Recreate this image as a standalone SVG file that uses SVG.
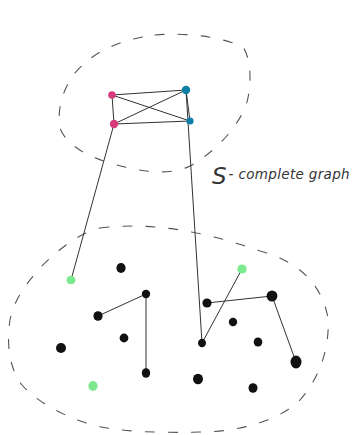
<svg xmlns="http://www.w3.org/2000/svg" width="353" height="435" viewBox="0 0 353 435">
<style>
.blob{fill:none;stroke:#555;stroke-width:1.1;stroke-dasharray:9 14;stroke-linecap:round}
.e{stroke:#333;stroke-width:1;fill:none}
.k{fill:#111}
.g{fill:#7ce98e}
.p{fill:#d63c7c}
.b{fill:#0f7fa6}
.lbl{font-family:"DejaVu Sans","Liberation Sans",sans-serif;font-style:italic;fill:#333;font-weight:300}
</style>
<rect width="353" height="435" fill="#fff"/>
<g id="regions">
<path class="blob" d="M155,35 C190,32 225,38 243,47 C252,60 252,90 245,108 C235,130 215,152 190,166 C170,176 140,172 110,163 C85,156 65,143 60,128 C57,110 62,90 75,73 C90,55 115,40 155,35 Z"/>
<path class="blob" d="M100,228 C150,222 200,230 260,251 C300,262 322,285 328,318 C330,350 318,380 300,400 C280,420 240,432 200,432 C160,433 120,432 92,425 C60,415 35,400 22,385 C10,370 6,345 10,320 C14,300 25,285 40,268 C55,252 80,232 100,228 Z"/>
</g>
<g id="connectors">
<line class="e" x1="112" y1="95" x2="186" y2="90"/>
<line class="e" x1="112" y1="95" x2="190" y2="121"/>
<line class="e" x1="112" y1="95" x2="114" y2="124"/>
<line class="e" x1="114" y1="124" x2="186" y2="90"/>
<line class="e" x1="114" y1="124" x2="190" y2="121"/>
<line class="e" x1="186" y1="90" x2="190" y2="121"/>
<line class="e" x1="114" y1="124" x2="71" y2="280"/>
<line class="e" x1="186" y1="90" x2="202" y2="343"/>
<line class="e" x1="98" y1="316" x2="146" y2="294"/>
<line class="e" x1="146" y1="294" x2="146" y2="373"/>
<line class="e" x1="207" y1="303" x2="272" y2="296"/>
<line class="e" x1="202" y1="343" x2="242" y2="269"/>
<line class="e" x1="272" y1="296" x2="296" y2="362"/>
</g>
<g id="n-p1"><circle class="p" cx="112" cy="95" r="3.8"/></g>
<g id="n-p2"><circle class="p" cx="114" cy="124" r="4.2"/></g>
<g id="n-b1"><circle class="b" cx="186" cy="90" r="4.2"/></g>
<g id="n-b2"><circle class="b" cx="190" cy="121" r="3.6"/></g>
<g id="n-g1"><ellipse class="g" cx="71" cy="280" rx="4.5" ry="4.3"/></g>
<g id="n-g2"><ellipse class="g" cx="93" cy="386" rx="4.6" ry="5"/></g>
<g id="n-g3"><ellipse class="g" cx="242" cy="269" rx="4.7" ry="4.5"/></g>
<g id="n-k1"><ellipse class="k" cx="121" cy="268" rx="4.6" ry="5"/></g>
<g id="n-k2"><circle class="k" cx="146" cy="294" r="4.2"/></g>
<g id="n-k3"><ellipse class="k" cx="98" cy="316" rx="4.6" ry="4.8"/></g>
<g id="n-k4"><circle class="k" cx="124" cy="338" r="4.4"/></g>
<g id="n-k5"><ellipse class="k" cx="61" cy="348" rx="5" ry="5.1"/></g>
<g id="n-k6"><ellipse class="k" cx="146" cy="373" rx="4.2" ry="4.8"/></g>
<g id="n-k7"><circle class="k" cx="207" cy="303" r="4.6"/></g>
<g id="n-k8"><ellipse class="k" cx="272" cy="296" rx="5.4" ry="5.6"/></g>
<g id="n-k9"><circle class="k" cx="233" cy="322" r="4.2"/></g>
<g id="n-k10"><ellipse class="k" cx="258" cy="342" rx="4.3" ry="4.6"/></g>
<g id="n-k11"><ellipse class="k" cx="202" cy="343" rx="4" ry="4.3"/></g>
<g id="n-k12"><ellipse class="k" cx="296" cy="362" rx="5.5" ry="6.5"/></g>
<g id="n-k13"><ellipse class="k" cx="198" cy="379" rx="5" ry="5.2"/></g>
<g id="n-k14"><ellipse class="k" cx="253" cy="388" rx="4.5" ry="4.8"/></g>
<g id="label">
<text class="lbl" x="212" y="184"><tspan font-size="23">S</tspan><tspan font-size="13.5" dx="2" dy="-5" textLength="121" lengthAdjust="spacing">- complete graph</tspan></text>
</g>
</svg>
